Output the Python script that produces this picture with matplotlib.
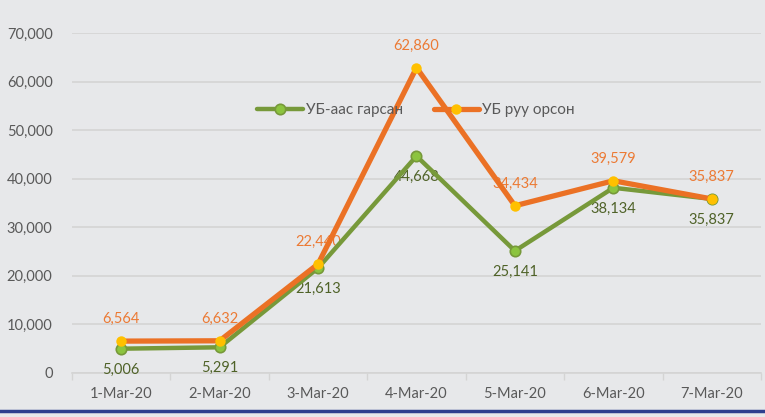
import matplotlib
matplotlib.use("Agg")
import matplotlib.pyplot as plt
from matplotlib.ticker import FuncFormatter, FixedLocator

categories = ["1-Mar-20", "2-Mar-20", "3-Mar-20", "4-Mar-20", "5-Mar-20", "6-Mar-20", "7-Mar-20"]
out_ub = [5006, 5291, 21613, 44668, 25141, 38134, 35837]      # УБ-аас гарсан
in_ub = [6564, 6632, 22440, 62860, 34434, 39579, 35837]       # УБ руу орсон
series_names = ["УБ-аас гарсан", "УБ руу орсон"]
yticks = [0, 10000, 20000, 30000, 40000, 50000, 60000, 70000]

plt.rcParams['font.family'] = ['Lato', 'DejaVu Sans']

bg = "#e7e8ea"
fig = plt.figure(figsize=(7.65, 4.17), dpi=100, facecolor=bg)
ax = fig.add_axes([72/765, (417-373)/417, (761-72)/765, (373-33)/417])
ax.set_facecolor(bg)

x = list(range(len(categories)))
ax.set_xlim(-0.5, len(categories) - 0.5)
ax.set_ylim(0, 70000)

green_line = "#77993a"
green_mk = "#8cc43f"
orange_line = "#eb7125"
orange_mk = "#ffc000"

ax.plot(x, out_ub, color=green_line, lw=3.2, marker='o', ms=7.5,
        mfc=green_mk, mec=green_line, mew=1.2, zorder=4, label=series_names[0],
        solid_capstyle='round')
ax.plot(x, in_ub, color=orange_line, lw=3.8, marker='o', ms=7.5,
        mfc=orange_mk, mec=orange_mk, mew=0, zorder=5, label=series_names[1],
        solid_capstyle='round')

for xi, v in zip(x, in_ub):
    ax.annotate(f"{v:,}", (xi, v), xytext=(0, 11), textcoords='offset points',
                ha='center', va='bottom', color="#ec7a34", fontsize=10.5, zorder=3)
for xi, v in zip(x, out_ub):
    ax.annotate(f"{v:,}", (xi, v), xytext=(0, -10), textcoords='offset points',
                ha='center', va='top', color="#4f6228", fontsize=10.5, zorder=3)

ax.yaxis.set_major_locator(FixedLocator(yticks))
ax.yaxis.set_major_formatter(FuncFormatter(lambda v, p: f"{int(v):,}"))
ax.set_xticks(x)
ax.set_xticklabels(categories)
ax.set_xticks([i + 0.5 for i in range(-1, len(categories))], minor=True)
ax.tick_params(axis='x', which='major', length=0, pad=10, labelsize=10.5, colors="#595959")
ax.tick_params(axis='x', which='minor', length=5, color="#d4d4d4", width=1)
ax.tick_params(axis='y', length=0, pad=14, labelsize=10.5, colors="#595959")
ax.grid(axis='y', color="#d4d4d4", lw=1.2)
ax.set_axisbelow(True)
for s in ['top', 'right', 'left']:
    ax.spines[s].set_visible(False)
ax.spines['bottom'].set_color("#d4d4d4")
ax.spines['bottom'].set_linewidth(1.2)

leg = ax.legend(loc='center', bbox_to_anchor=((416-72)/689, (373-110)/340), ncol=2,
                frameon=False, fontsize=11, handlelength=3.0, columnspacing=2.0,
                handletextpad=0.2, borderaxespad=0)
for t in leg.get_texts():
    t.set_color("#595959")

fig.add_artist(plt.Line2D([0, 1], [(417-411)/417]*2, color="#2e3f8e", lw=2.5,
                          transform=fig.transFigure))

fig.savefig("out.png", dpi=100, facecolor=bg)
